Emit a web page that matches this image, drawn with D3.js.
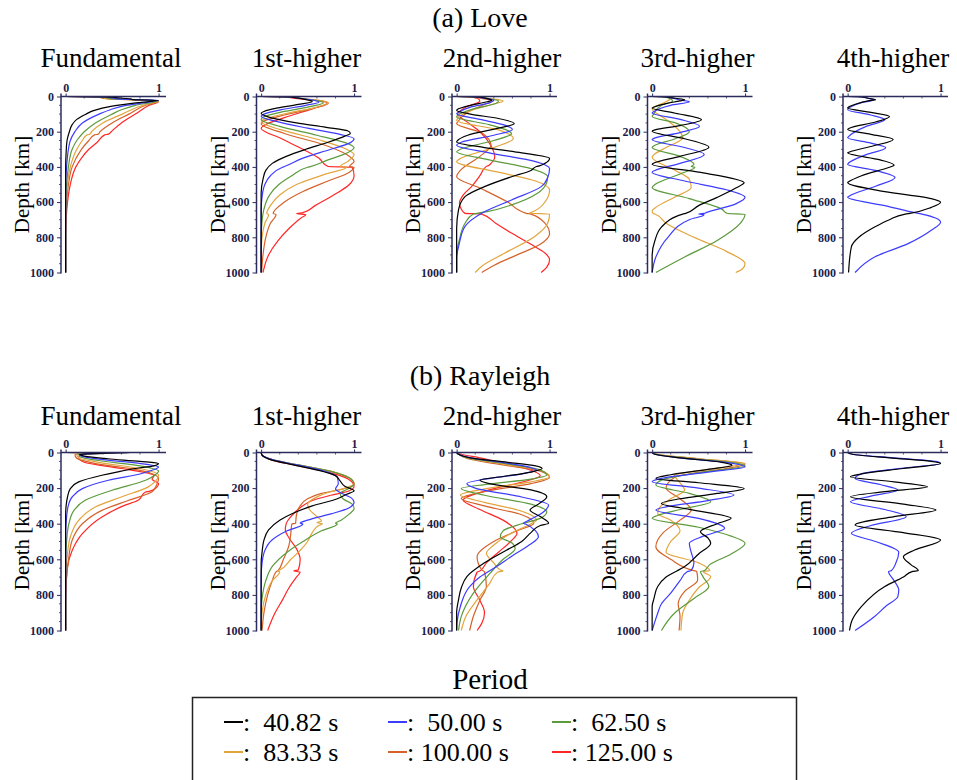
<!DOCTYPE html>
<html>
<head>
<meta charset="utf-8">
<script src="https://cdn.jsdelivr.net/npm/d3@7"></script>
<style>
  body { margin: 0; background: #fff; }
</style>
</head>
<body>
<svg id="chart" width="957" height="780"></svg>
<script>
// periods and colours of the six curves
const periods = ["40.82", "50.00", "62.50", "83.33", "100.00", "125.00"];
const colors = ["#000000", "#3c3cff", "#5c9a3c", "#e3a43c", "#d4622a", "#ff2626"];
const modes = ["Fundamental", "1st-higher", "2nd-higher", "3rd-higher", "4th-higher"];
const depthTicks = [0, 200, 400, 600, 800, 1000];
const ampTicks = [0, 1];

// each curve: [depth km, normalised amplitude]
// ---- Love ----
const loveF = [
  [[0,0],[2,0.42],[6,0.55],[10,0.62],[14,0.7],[18,0.72],[22,1],[35,0.78],[55,0.5],[80,0.3],[100,0.22],[130,0.12],[160,0.07],[200,0.04],[250,0.015],[320,0.005],[400,0],[1000,0]],
  [[0,0],[2,0.4],[8,0.5],[14,0.55],[18,0.75],[22,1],[35,0.85],[50,0.65],[75,0.48],[100,0.36],[150,0.18],[200,0.1],[250,0.05],[300,0.03],[400,0.01],[500,0],[1000,0]],
  [[0,0],[2,0.38],[8,0.45],[14,0.5],[18,0.8],[24,1],[50,0.75],[75,0.6],[100,0.5],[150,0.32],[200,0.2],[250,0.12],[300,0.07],[400,0.03],[500,0.01],[600,0],[1000,0]],
  [[0,0],[2,0.36],[8,0.38],[14,0.45],[20,0.85],[26,1],[50,0.83],[100,0.61],[150,0.4],[200,0.28],[214,0.26],[218,0.23],[250,0.18],[300,0.12],[400,0.05],[500,0.02],[600,0.005],[700,0],[1000,0]],
  [[0,0],[2,0.37],[8,0.4],[14,0.48],[20,0.85],[27,1],[50,0.86],[100,0.68],[150,0.5],[200,0.37],[214,0.35],[218,0.31],[250,0.25],[300,0.17],[400,0.07],[500,0.03],[600,0.01],[750,0],[1000,0]],
  [[0,0],[2,0.38],[8,0.42],[14,0.5],[20,0.88],[28,1],[50,0.9],[100,0.75],[150,0.6],[200,0.49],[214,0.46],[218,0.42],[260,0.34],[300,0.25],[350,0.17],[400,0.11],[500,0.05],[600,0.02],[700,0.005],[800,0],[1000,0]]
];
const love1 = [
  [[0,0],[2,0.3],[8,0.38],[14,0.45],[20,0.5],[28,0.55],[45,0.4],[65,0.18],[85,0.03],[95,0],[120,0.1],[150,0.38],[175,0.7],[195,0.93],[210,0.96],[225,0.9],[260,0.72],[300,0.48],[340,0.27],[380,0.12],[420,0.05],[470,0.02],[550,0],[1000,0]],
  [[0,0],[2,0.3],[10,0.4],[20,0.55],[32,0.62],[50,0.48],[75,0.22],[100,0.03],[112,0],[140,0.15],[180,0.5],[215,0.85],[240,1],[265,0.95],[300,0.75],[350,0.45],[398,0.25],[402,0.23],[450,0.1],[500,0.04],[570,0.01],[650,0],[1000,0]],
  [[0,0],[2,0.32],[10,0.42],[22,0.58],[35,0.67],[55,0.55],[85,0.25],[115,0.03],[130,0],[170,0.2],[220,0.6],[265,0.92],[290,1],[320,0.93],[360,0.72],[398,0.53],[402,0.5],[450,0.33],[500,0.19],[560,0.09],[640,0.03],[740,0.005],[800,0],[1000,0]],
  [[0,0],[2,0.3],[10,0.4],[22,0.62],[35,0.72],[60,0.6],[95,0.28],[130,0.03],[145,0],[190,0.22],[250,0.65],[300,0.92],[330,1],[370,0.93],[398,0.85],[402,0.92],[440,0.7],[500,0.38],[560,0.2],[620,0.1],[665,0.06],[670,0.08],[720,0.04],[800,0.01],[900,0],[1000,0]],
  [[0,0],[2,0.3],[10,0.4],[22,0.62],[36,0.72],[65,0.58],[105,0.25],[140,0.03],[155,0],[210,0.25],[270,0.65],[330,0.92],[370,1],[398,0.95],[402,1],[430,0.95],[480,0.72],[540,0.45],[600,0.25],[665,0.13],[670,0.16],[720,0.1],[800,0.05],[900,0.02],[1000,0.005]],
  [[0,0],[2,0.25],[10,0.35],[22,0.58],[38,0.72],[70,0.55],[120,0.25],[165,0.03],[180,0],[240,0.22],[300,0.45],[350,0.62],[398,0.72],[402,0.98],[450,1],[500,0.95],[560,0.78],[620,0.58],[660,0.45],[665,0.38],[672,0.48],[690,0.43],[750,0.3],[820,0.18],[900,0.08],[1000,0.02]]
];
const love2 = [
  [[0,0],[2,0.2],[8,0.3],[15,0.35],[22,0.38],[30,0.33],[50,0.15],[70,0.02],[79,0],[100,0.15],[125,0.45],[154,0.62],[180,0.45],[220,0.12],[250,0.01],[258,0],[290,0.3],[320,0.7],[352,1],[380,0.95],[394,0.89],[398,0.86],[420,0.8],[456,0.59],[512,0.3],[569,0.09],[644,0.02],[750,0],[1000,0]],
  [[0,0],[2,0.2],[10,0.3],[22,0.4],[35,0.36],[60,0.15],[90,0.02],[98,0],[130,0.25],[160,0.5],[188,0.6],[220,0.4],[260,0.05],[277,0],[320,0.35],[370,0.85],[409,1],[460,0.98],[512,0.91],[588,0.59],[663,0.27],[738,0.09],[832,0.03],[920,0],[1000,0]],
  [[0,0],[2,0.22],[10,0.32],[25,0.45],[40,0.42],[70,0.18],[108,0.01],[117,0],[160,0.35],[211,0.59],[250,0.4],[300,0.04],[314,0],[360,0.35],[410,0.8],[456,0.98],[500,0.96],[550,0.87],[616,0.59],[653,0.34],[664,0.22],[668,0.18],[720,0.09],[814,0.03],[900,0],[1000,0]],
  [[0,0],[2,0.2],[12,0.35],[25,0.5],[40,0.42],[80,0.15],[125,0.01],[136,0],[190,0.45],[239,0.61],[290,0.4],[350,0.05],[371,0],[430,0.45],[480,0.85],[531,1],[600,0.95],[660,0.8],[664,0.78],[668,1],[720,0.98],[795,0.84],[889,0.52],[964,0.27],[1000,0.2]],
  [[0,0],[2,0.15],[12,0.28],[25,0.38],[45,0.3],[90,0.12],[145,0.01],[154,0],[210,0.28],[277,0.37],[340,0.25],[420,0.04],[456,0],[520,0.25],[600,0.55],[664,0.75],[668,0.8],[720,0.95],[780,1],[840,0.9],[900,0.65],[960,0.4],[1000,0.27]],
  [[0,0],[2,0.15],[10,0.22],[25,0.25],[60,0.1],[100,0.01],[140,0.1],[200,0.25],[280,0.37],[343,0.41],[380,0.37],[393,0.34],[397,0.32],[450,0.25],[512,0.16],[560,0.07],[606,0.03],[640,0.05],[664,0.09],[668,0.27],[720,0.42],[776,0.59],[840,0.8],[889,0.95],[927,1],[970,0.97],[1000,0.91]]
];
const love3 = [
  [[0,0],[2,0.15],[10,0.25],[18,0.35],[25,0.3],[40,0.15],[60,0.02],[66,0],[95,0.25],[132,0.53],[165,0.3],[190,0.03],[197,0],[240,0.35],[288,0.61],[340,0.3],[378,0.02],[385,0],[430,0.5],[470,0.9],[489,0.99],[520,0.9],[573,0.7],[620,0.5],[664,0.36],[668,0.33],[742,0.1],[818,0.03],[900,0],[1000,0]],
  [[0,0],[2,0.15],[10,0.22],[20,0.3],[30,0.4],[50,0.2],[85,0.02],[94,0],[130,0.3],[169,0.51],[205,0.3],[238,0.02],[244,0],[290,0.35],[329,0.56],[380,0.3],[420,0.03],[430,0],[480,0.35],[530,0.8],[573,1],[610,0.9],[660,0.58],[664,0.56],[668,0.5],[672,0.56],[700,0.4],[800,0.17],[912,0.04],[1000,0]],
  [[0,0],[2,0.12],[10,0.18],[25,0.22],[50,0.1],[105,0.01],[113,0],[150,0.25],[200,0.4],[240,0.25],[280,0.02],[290,0],[340,0.3],[385,0.45],[398,0.42],[402,0.46],[440,0.3],[500,0.03],[517,0],[580,0.4],[640,0.75],[665,0.81],[669,1],[720,0.95],[818,0.7],[912,0.35],[1000,0.04]],
  [[0,0],[2,0.12],[10,0.2],[30,0.15],[60,0.02],[70,0],[130,0.15],[200,0.3],[235,0.33],[290,0.15],[330,0.02],[345,0],[420,0.25],[470,0.4],[517,0.42],[570,0.25],[630,0.04],[650,0],[664,0.01],[668,0.03],[720,0.15],[800,0.45],[880,0.8],[950,1],[980,0.97],[1000,0.9]]
];
const love4 = [
  [[0,0],[2,0.15],[10,0.22],[18,0.3],[25,0.22],[45,0.08],[60,0.01],[66,0],[90,0.25],[113,0.45],[145,0.3],[180,0.02],[188,0],[215,0.25],[244,0.49],[280,0.28],[315,0.02],[320,0],[360,0.35],[390,0.5],[396,0.48],[402,0.45],[450,0.15],[485,0.01],[489,0],[540,0.4],[580,0.9],[601,1],[630,0.9],[664,0.67],[668,0.62],[700,0.45],[742,0.29],[800,0.12],[855,0.04],[1000,0.01]],
  [[0,0],[2,0.15],[10,0.22],[20,0.28],[35,0.15],[60,0.03],[75,0],[105,0.25],[132,0.4],[170,0.2],[228,0.01],[235,0],[265,0.25],[291,0.41],[330,0.2],[378,0.01],[385,0],[420,0.3],[460,0.51],[510,0.3],[565,0.02],[573,0],[620,0.4],[664,0.76],[668,0.8],[714,1],[760,0.9],[836,0.65],[912,0.29],[1000,0.08]]
];

// ---- Rayleigh ----
const rayF = [
  [[0,0],[1,0.7],[4,0.45],[10,0.15],[20,0.2],[35,0.45],[50,0.8],[62,1],[75,0.95],[90,0.75],[110,0.55],[128,0.39],[165,0.14],[203,0.05],[250,0.02],[300,0.005],[350,0],[1000,0]],
  [[0,0],[1,0.6],[4,0.4],[10,0.15],[22,0.18],[40,0.4],[60,0.78],[81,1],[100,0.93],[118,0.82],[156,0.46],[203,0.18],[250,0.07],[306,0.025],[400,0.005],[450,0],[1000,0]],
  [[0,0],[1,0.5],[4,0.35],[10,0.14],[25,0.16],[45,0.35],[75,0.8],[105,1],[130,0.95],[156,0.86],[212,0.5],[268,0.21],[325,0.09],[400,0.035],[500,0.01],[600,0],[1000,0]],
  [[0,0],[1,0.4],[4,0.3],[12,0.12],[30,0.14],[55,0.35],[90,0.8],[128,1],[160,0.97],[193,0.89],[250,0.6],[306,0.32],[381,0.14],[475,0.05],[568,0.02],[650,0.005],[700,0],[1000,0]],
  [[0,0],[1,0.35],[4,0.25],[12,0.1],[32,0.12],[60,0.3],[100,0.8],[146,1],[180,0.98],[221,0.93],[268,0.68],[325,0.39],[400,0.18],[493,0.07],[606,0.03],[700,0.01],[800,0],[1000,0]],
  [[0,0],[1,0.35],[4,0.28],[12,0.16],[30,0.14],[55,0.2],[90,0.6],[130,0.95],[150,0.93],[175,1],[200,0.97],[218,0.9],[222,0.86],[268,0.78],[300,0.62],[362,0.39],[456,0.18],[550,0.07],[643,0.02],[750,0.005],[850,0],[1000,0]]
];
const ray1 = [
  [[0,0],[15,0.01],[40,0.1],[70,0.35],[100,0.62],[130,0.8],[160,0.85],[190,0.9],[215,1],[235,0.92],[260,0.82],[300,0.55],[340,0.35],[380,0.2],[435,0.08],[492,0.03],[560,0.01],[620,0],[1000,0]],
  [[0,0],[15,0.01],[40,0.12],[70,0.38],[100,0.65],[140,0.82],[175,0.83],[205,0.8],[225,0.85],[255,0.97],[280,1],[310,0.95],[345,0.75],[380,0.5],[398,0.42],[402,0.45],[440,0.28],[490,0.12],[550,0.04],[620,0.01],[700,0],[1000,0]],
  [[0,0],[15,0.01],[40,0.12],[70,0.4],[110,0.78],[150,0.97],[175,1],[200,0.95],[230,0.85],[260,0.88],[290,0.98],[315,1],[345,0.95],[380,0.86],[398,0.8],[402,0.82],[440,0.65],[500,0.45],[560,0.28],[640,0.12],[720,0.05],[820,0.01],[900,0],[1000,0]],
  [[0,0],[15,0.01],[40,0.12],[70,0.4],[110,0.78],[150,0.97],[175,1],[200,0.9],[225,0.72],[255,0.58],[290,0.5],[320,0.52],[360,0.6],[385,0.65],[395,0.6],[400,0.66],[410,0.62],[450,0.55],[500,0.5],[550,0.42],[600,0.32],[660,0.2],[665,0.18],[670,0.2],[720,0.12],[800,0.05],[900,0.01],[1000,0]],
  [[0,0],[15,0.01],[40,0.12],[70,0.4],[110,0.78],[150,0.97],[180,1],[205,0.88],[230,0.65],[260,0.5],[300,0.42],[350,0.38],[398,0.37],[402,0.33],[450,0.32],[520,0.3],[600,0.24],[665,0.18],[670,0.16],[720,0.12],[800,0.07],[900,0.03],[1000,0.01]],
  [[0,0],[15,0.01],[40,0.1],[70,0.35],[110,0.72],[150,0.94],[190,1],[215,0.95],[240,0.75],[270,0.55],[310,0.42],[360,0.32],[400,0.27],[435,0.26],[480,0.3],[540,0.38],[600,0.42],[660,0.4],[665,0.35],[672,0.42],[700,0.38],[760,0.3],[828,0.23],[900,0.15],[1000,0.07]]
];
const ray2 = [
  [[0,0],[10,0.02],[30,0.15],[55,0.55],[75,0.85],[90,0.92],[110,0.8],[135,0.5],[155,0.25],[175,0.35],[210,0.8],[249,0.97],[290,0.88],[323,0.79],[360,0.9],[398,0.99],[410,0.9],[450,0.8],[500,0.7],[548,0.54],[620,0.3],[697,0.11],[760,0.05],[828,0.02],[900,0],[1000,0]],
  [[0,0],[10,0.02],[30,0.15],[60,0.55],[85,0.8],[99,0.86],[120,0.7],[150,0.3],[174,0.11],[200,0.2],[250,0.7],[295,0.99],[340,0.92],[380,0.78],[398,0.72],[402,0.74],[440,0.85],[473,0.88],[520,0.78],[580,0.6],[641,0.43],[700,0.25],[753,0.14],[865,0.04],[950,0.005],[1000,0]],
  [[0,0],[10,0.02],[30,0.12],[60,0.5],[95,0.88],[127,0.97],[150,0.8],[180,0.3],[202,0.05],[240,0.3],[290,0.8],[333,0.97],[370,0.9],[400,0.7],[440,0.5],[473,0.47],[510,0.6],[540,0.63],[600,0.5],[678,0.36],[790,0.18],[921,0.05],[1000,0.02]],
  [[0,0],[10,0.02],[30,0.12],[65,0.5],[100,0.9],[136,1],[165,0.8],[200,0.35],[239,0.04],[280,0.3],[330,0.7],[379,0.86],[400,0.8],[450,0.6],[520,0.4],[566,0.32],[620,0.4],[660,0.47],[666,0.5],[672,0.44],[740,0.35],[828,0.22],[920,0.1],[1000,0.05]],
  [[0,0],[10,0.02],[35,0.12],[70,0.5],[105,0.9],[140,1],[175,0.8],[215,0.35],[258,0.05],[300,0.3],[350,0.7],[398,0.83],[440,0.65],[500,0.4],[585,0.22],[660,0.27],[670,0.3],[753,0.32],[830,0.25],[920,0.18],[1000,0.14]],
  [[0,0],[10,0.05],[30,0.25],[60,0.5],[100,0.8],[130,0.9],[160,0.75],[210,0.35],[267,0.07],[320,0.25],[380,0.5],[454,0.65],[500,0.58],[560,0.45],[620,0.32],[666,0.25],[672,0.22],[753,0.18],[830,0.25],[900,0.3],[960,0.27],[1000,0.22]]
];
const ray3 = [
  [[0,0],[10,0.03],[30,0.3],[55,0.75],[71,0.86],[95,0.6],[125,0.2],[146,0.04],[170,0.5],[202,0.99],[230,0.7],[260,0.3],[286,0.1],[320,0.4],[370,0.85],[400,0.7],[445,0.52],[480,0.6],[510,0.63],[570,0.5],[641,0.35],[700,0.15],[753,0.06],[820,0.02],[865,0],[1000,0]],
  [[0,0],[10,0.03],[30,0.3],[60,0.85],[80,1],[110,0.6],[145,0.1],[164,0],[200,0.5],[239,0.88],[270,0.6],[305,0.15],[323,0.04],[370,0.5],[426,0.78],[470,0.55],[510,0.4],[560,0.42],[620,0.45],[664,0.42],[668,0.38],[720,0.3],[790,0.2],[850,0.1],[903,0.06],[1000,0]],
  [[0,0],[10,0.03],[30,0.35],[60,0.9],[75,1],[110,0.55],[155,0.1],[183,0.04],[230,0.4],[277,0.63],[320,0.3],[355,0.05],[370,0],[420,0.5],[470,0.85],[510,1],[570,0.85],[630,0.62],[664,0.56],[668,0.52],[700,0.55],[753,0.61],[820,0.45],[903,0.24],[1000,0.1]],
  [[0,0],[10,0.05],[35,0.5],[62,1],[85,0.75],[110,0.4],[127,0.24],[170,0.3],[211,0.35],[260,0.2],[310,0.08],[342,0.06],[380,0.2],[440,0.3],[500,0.2],[560,0.15],[620,0.5],[664,0.62],[668,0.55],[697,0.63],[760,0.5],[830,0.4],[900,0.33],[1000,0.31]],
  [[0,0],[10,0.05],[35,0.5],[65,1],[90,0.8],[115,0.45],[140,0.24],[200,0.15],[260,0.3],[323,0.42],[380,0.3],[450,0.12],[529,0.04],[600,0.2],[664,0.45],[668,0.48],[716,0.49],[780,0.35],[850,0.28],[920,0.3],[1000,0.29]]
];
const ray4 = [
  [[0,0],[10,0.05],[30,0.45],[50,0.9],[62,1],[90,0.6],[120,0.15],[136,0.03],[165,0.5],[193,0.86],[220,0.4],[249,0.03],[290,0.6],[323,0.95],[360,0.5],[407,0.08],[450,0.6],[492,1],[548,0.72],[585,0.6],[630,0.68],[664,0.76],[668,0.7],[700,0.6],[753,0.4],[865,0.15],[940,0.05],[1000,0.02]],
  [[0,0],[10,0.05],[30,0.5],[50,0.95],[62,1],[90,0.55],[120,0.15],[146,0.08],[180,0.35],[211,0.54],[245,0.25],[277,0.03],[320,0.4],[361,0.63],[410,0.25],[454,0.04],[500,0.3],[560,0.55],[620,0.52],[664,0.47],[668,0.44],[720,0.5],[772,0.55],[810,0.54],[860,0.42],[921,0.29],[1000,0.08]]
];

const rows = [
  { title: "(a) Love", titleY: 27, modeY: 67, top: 96.5, bottom: 272.5, panels: [loveF, love1, love2, love3, love4] },
  { title: "(b) Rayleigh", titleY: 385, modeY: 425, top: 452.5, bottom: 630.5, panels: [rayF, ray1, ray2, ray3, ray4] }
];

const serif = "Liberation Serif";
const svg = d3.select("#chart").attr("font-family", serif);
const axisColor = "#2c2c5c";
const panelX0 = 61, panelStep = 195.5, panelW = 105;

rows.forEach(row => {
  svg.append("text")
    .attr("x", 480).attr("y", row.titleY)
    .attr("text-anchor", "middle")
    .attr("font-family", serif)
    .attr("font-size", 28)
    .text(row.title);

  row.panels.forEach((curves, i) => {
    const ax = panelX0 + i * panelStep;
    const x = d3.scaleLinear().domain([-0.05, 1.08]).range([ax, ax + panelW]);
    const y = d3.scaleLinear().domain([0, 1000]).range([row.top, row.bottom]);
    const g = svg.append("g");

    g.append("text")
      .attr("x", ax + 50).attr("y", row.modeY)
      .attr("text-anchor", "middle")
      .attr("font-family", serif)
      .attr("font-size", 27)
      .text(modes[i]);

    // curves, red first so black ends on top
    const line = d3.line()
      .x(d => x(d[1]))
      .y(d => y(d[0]))
      .curve(d3.curveMonotoneY);
    curves.map((c, k) => ({ c, k })).reverse().forEach(({ c, k }) => {
      g.append("path")
        .datum(c)
        .attr("d", line)
        .attr("fill", "none")
        .attr("stroke", colors[k])
        .attr("stroke-width", 1.2);
    });

    // left depth axis
    const yAxis = d3.axisLeft(y).tickValues(depthTicks).tickSize(4).tickPadding(3).tickFormat(d3.format("d"));
    const ya = g.append("g").attr("transform", `translate(${ax},0)`).call(yAxis);
    ya.select(".domain").remove();
    ya.selectAll("line").attr("stroke", axisColor);
    ya.selectAll("text")
      .attr("font-family", serif)
      .attr("font-weight", "bold")
      .attr("font-size", 12)
      .attr("fill", "#1c1c48");
    g.selectAll(".minorY")
      .data(d3.range(50, 1000, 50).filter(v => v % 200 !== 0))
      .join("line")
      .attr("x1", ax - 2).attr("x2", ax)
      .attr("y1", d => y(d)).attr("y2", d => y(d))
      .attr("stroke", axisColor).attr("stroke-width", 0.8);
    g.append("line")
      .attr("x1", ax).attr("x2", ax)
      .attr("y1", row.top - 3).attr("y2", row.bottom + 1)
      .attr("stroke", axisColor).attr("stroke-width", 1.5);

    // top amplitude axis
    const xAxis = d3.axisTop(x).tickValues(ampTicks).tickSize(3).tickPadding(2).tickFormat(d3.format("d"));
    const xa = g.append("g").attr("transform", `translate(0,${row.top})`).call(xAxis);
    xa.select(".domain").remove();
    xa.selectAll("line").attr("stroke", axisColor);
    xa.selectAll("text")
      .attr("font-family", serif)
      .attr("font-weight", "bold")
      .attr("font-size", 12)
      .attr("fill", "#1c1c48");
    g.selectAll(".minorX")
      .data([0.2, 0.4, 0.6, 0.8])
      .join("line")
      .attr("x1", d => x(d)).attr("x2", d => x(d))
      .attr("y1", row.top).attr("y2", row.top + 2)
      .attr("stroke", axisColor).attr("stroke-width", 0.8);
    g.append("line")
      .attr("x1", ax).attr("x2", ax + panelW)
      .attr("y1", row.top).attr("y2", row.top)
      .attr("stroke", axisColor).attr("stroke-width", 1.5);

    g.append("text")
      .attr("transform", `translate(${ax - 39},${(row.top + row.bottom) / 2}) rotate(-90)`)
      .attr("text-anchor", "middle")
      .attr("dominant-baseline", "central")
      .attr("font-family", serif)
      .attr("font-size", 21)
      .text("Depth [km]");
  });
});

// legend
svg.append("text")
  .attr("x", 490).attr("y", 689)
  .attr("text-anchor", "middle")
  .attr("font-family", serif)
  .attr("font-size", 29)
  .text("Period");
svg.append("rect")
  .attr("x", 192.5).attr("y", 697.5)
  .attr("width", 604).attr("height", 100)
  .attr("fill", "none")
  .attr("stroke", "#222").attr("stroke-width", 1.5);
const legX = [224, 388, 552], legY = [722, 752];
periods.forEach((p, k) => {
  const lx = legX[k % 3], ly = legY[Math.floor(k / 3)];
  svg.append("line")
    .attr("x1", lx).attr("x2", lx + 19)
    .attr("y1", ly).attr("y2", ly)
    .attr("stroke", colors[k]).attr("stroke-width", 2);
  svg.append("text")
    .attr("x", lx + 19).attr("y", ly + 9)
    .attr("font-family", serif)
    .attr("font-size", 26)
    .text(":" + (p.length > 5 ? " " : "\u00a0\u00a0") + p + " s");
});
</script>
</body>
</html>
